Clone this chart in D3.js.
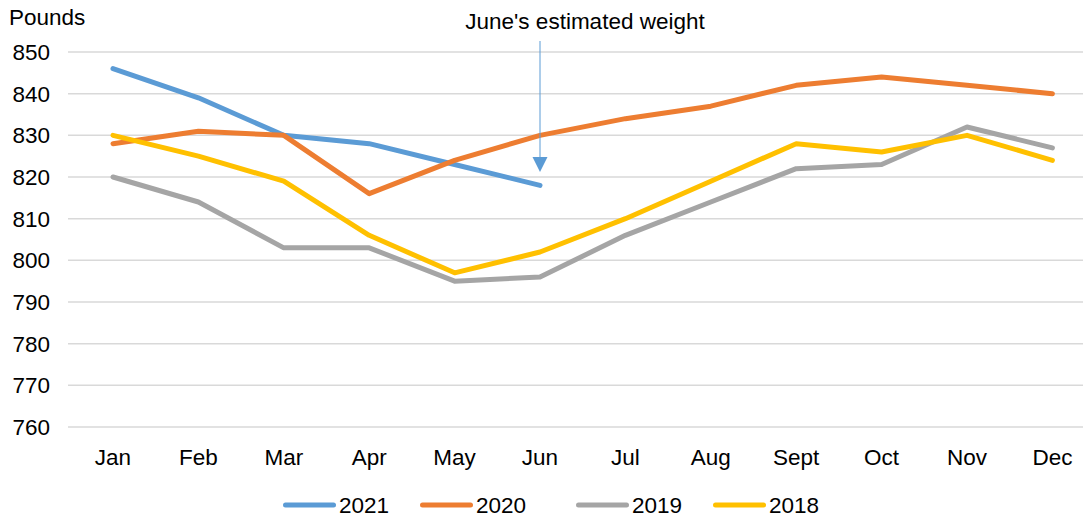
<!DOCTYPE html>
<html>
<head>
<meta charset="utf-8">
<script src="https://cdn.jsdelivr.net/npm/d3@7"></script>
<style>
  body { margin: 0; background: #fff; }
  svg { font-family: "Liberation Sans", Arial, sans-serif; }
</style>
</head>
<body>
<svg id="chart" width="1083" height="518"></svg>
<script>
// data
const months = ['Jan', 'Feb', 'Mar', 'Apr', 'May', 'Jun', 'Jul', 'Aug', 'Sept', 'Oct', 'Nov', 'Dec'];
const years = ['2021', '2020', '2019', '2018'];
const w2021 = [846, 839, 830, 828, 823, 818];
const w2020 = [828, 831, 830, 816, 824, 830, 834, 837, 842, 844, 842, 840];
const w2019 = [820, 814, 803, 803, 795, 796, 806, 814, 822, 823, 832, 827];
const w2018 = [830, 825, 819, 806, 797, 802, 810, 819, 828, 826, 830, 824];
const yTicks = [760, 770, 780, 790, 800, 810, 820, 830, 840, 850];

const series = [w2021, w2020, w2019, w2018];
const colors = ['#5B9BD5', '#ED7D31', '#A5A5A5', '#FFC000'];
const fontSize = '22.5px';

const svg = d3.select('#chart');
const margin = { left: 68, right: 1083, top: 52, bottom: 427 };

const x = d3.scalePoint().domain(months).range([70.3, 1095.1]).padding(0.5);
const y = d3.scaleLinear().domain([760, 850]).range([margin.bottom, margin.top]);

// gridlines
svg.append('g')
  .selectAll('line')
  .data(yTicks)
  .join('line')
  .attr('x1', margin.left)
  .attr('x2', margin.right)
  .attr('y1', (d) => y(d))
  .attr('y2', (d) => y(d))
  .attr('stroke', '#D9D9D9')
  .attr('stroke-width', 1.5);

// y tick labels
svg.append('g')
  .selectAll('text')
  .data(yTicks)
  .join('text')
  .attr('x', 50)
  .attr('y', (d) => y(d))
  .attr('dy', '0.36em')
  .attr('text-anchor', 'end')
  .style('font-size', fontSize)
  .attr('fill', '#000')
  .text((d) => d);

// x labels
svg.append('g')
  .selectAll('text')
  .data(months)
  .join('text')
  .attr('x', (d) => x(d))
  .attr('y', 465)
  .attr('text-anchor', 'middle')
  .style('font-size', fontSize)
  .attr('fill', '#000')
  .text((d) => d);

svg.append('text')
  .attr('x', 9)
  .attr('y', 25)
  .style('font-size', fontSize)
  .text('Pounds');

// lines
const line = d3.line()
  .x((d, i) => x(months[i]))
  .y((d) => y(d));

svg.append('g')
  .selectAll('path')
  .data(series)
  .join('path')
  .attr('d', (d) => line(d))
  .attr('fill', 'none')
  .attr('stroke', (d, i) => colors[i])
  .attr('stroke-width', 5)
  .attr('stroke-linejoin', 'round')
  .attr('stroke-linecap', 'round');

// annotation arrow
const ax = x('Jun');
svg.append('line')
  .attr('x1', ax)
  .attr('x2', ax)
  .attr('y1', 41)
  .attr('y2', 158)
  .attr('stroke', '#5B9BD5')
  .attr('stroke-width', 1);
svg.append('path')
  .attr('d', `M${ax - 7.5},157 L${ax + 7.5},157 L${ax},172 Z`)
  .attr('fill', '#5B9BD5');
svg.append('text')
  .attr('x', 585)
  .attr('y', 29)
  .attr('text-anchor', 'middle')
  .style('font-size', fontSize)
  .text("June's estimated weight");

// legend (pulled up a touch so the text stays inside the frame)
const legendX = [283, 420, 576, 713];
const legend = svg.append('g')
  .selectAll('g')
  .data(years)
  .join('g')
  .attr('transform', (d, i) => `translate(${legendX[i]},505)`);
legend.append('line')
  .attr('x1', 2.5)
  .attr('x2', 50.5)
  .attr('stroke', (d, i) => colors[i])
  .attr('stroke-width', 5)
  .attr('stroke-linecap', 'round');
legend.append('text')
  .attr('x', 56)
  .attr('dy', '0.36em')
  .style('font-size', fontSize)
  .text((d) => d);
</script>
</body>
</html>
